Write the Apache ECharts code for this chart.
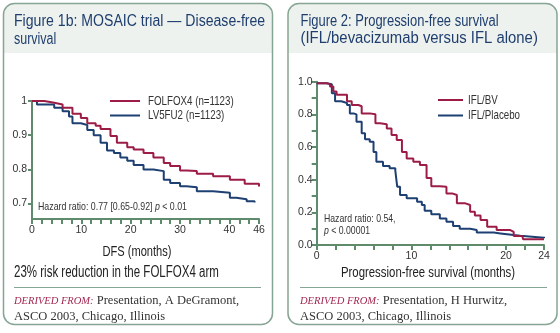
<!DOCTYPE html>
<html>
<head>
<meta charset="utf-8">
<script src="https://cdn.jsdelivr.net/npm/echarts@6/dist/echarts.min.js"></script>
<style>
  html, body { margin: 0; padding: 0; background: #ffffff; }
  #chart { width: 560px; height: 333px; }
</style>
</head>
<body>
<div id="chart"></div>
<script>
// Figure 1b: MOSAIC trial, disease-free survival (months, proportion)
const dfsMonths   = [0, 2.5, 4.5, 6.2, 8.2, 9.9, 11.2, 12.9, 13.9, 15.9, 17.2, 19.3, 20.6, 22.6, 24.6, 26.7, 28, 30, 31.3, 33.4, 36.7, 40.1, 43.1, 45.4, 46];
const folfox4Surv = [1.0, 0.995, 0.99, 0.98, 0.963, 0.95, 0.935, 0.928, 0.918, 0.898, 0.878, 0.865, 0.858, 0.848, 0.835, 0.819, 0.81, 0.797, 0.795, 0.787, 0.78, 0.77, 0.758, 0.758, 0.75];
const lvMonths    = [0, 1, 2.5, 4.5, 6.2, 7.5, 8.2, 9.9, 11.2, 12.5, 13.9, 15.2, 16.6, 17.9, 19.3, 20.6, 22.6, 24.6, 26.7, 28, 30, 31.3, 33.4, 36.7, 40.1, 41.4, 43.5, 45.1];
const lv5fu2Surv  = [1.0, 0.99, 0.99, 0.98, 0.97, 0.955, 0.935, 0.93, 0.915, 0.9, 0.878, 0.855, 0.848, 0.835, 0.825, 0.813, 0.8, 0.795, 0.77, 0.76, 0.751, 0.748, 0.736, 0.732, 0.717, 0.713, 0.707, 0.703];
const dfsTickLabels = [0, 10, 20, 30, 40, 46];
const dfsYLabels    = [0.7, 0.8, 0.9, 1];

// Figure 2: progression-free survival (months, proportion)
const bvMonths = [0, 1.06, 1.4, 1.76, 2.1, 2.6, 3.2, 3.7, 4.4, 4.75, 5.6, 6.2, 6.7, 7.4, 7.9, 8.45, 9.0, 9.5, 10.2, 10.9, 11.6, 12.1, 13.0, 13.7, 14.3, 14.8, 15.7, 16.2, 16.7, 17.3, 18.0, 19.0, 20.4, 20.8, 21.7, 21.8, 24.0];
const bvSurv   = [0.99, 0.985, 0.97, 0.94, 0.92, 0.92, 0.88, 0.857, 0.85, 0.806, 0.80, 0.745, 0.74, 0.714, 0.673, 0.643, 0.57, 0.53, 0.51, 0.49, 0.41, 0.36, 0.357, 0.316, 0.306, 0.255, 0.245, 0.204, 0.18, 0.153, 0.112, 0.092, 0.08, 0.055, 0.05, 0.035, 0.035];
const plMonths = [0, 1.06, 1.6, 1.94, 2.6, 3.2, 3.5, 3.9, 4.2, 4.75, 5.1, 5.6, 6.0, 6.3, 7.0, 7.7, 8.3, 8.5, 8.8, 9.5, 10.6, 11.1, 11.4, 12.1, 13.0, 13.7, 14.4, 15.1, 16.2, 16.9, 18.7, 19.4, 20.8, 21.5, 24.0];
const plSurv   = [0.99, 0.985, 0.93, 0.88, 0.87, 0.857, 0.806, 0.80, 0.755, 0.684, 0.647, 0.633, 0.57, 0.51, 0.484, 0.47, 0.455, 0.357, 0.306, 0.286, 0.265, 0.245, 0.21, 0.188, 0.163, 0.143, 0.116, 0.10, 0.092, 0.076, 0.071, 0.061, 0.057, 0.045, 0.05];
const pfsTickLabels = [0, 10, 20, 24];

const zip = (xs, ys) => xs.map((x, i) => [x, ys[i]]);

const RED = '#9c1c46';
const BLUE = '#1d3f72';
const AXIS = '#5e8b6c';
const FRAME = '#86a594';
const HEAD_BG = '#eef2ef';
const TITLE = '#1f3e6e';
const SANS = '"Liberation Sans", Arial, sans-serif';
const SERIF = '"Liberation Serif", "Times New Roman", serif';

function panel(x, w) {
  return [
    { type: 'rect', z: 0, shape: { x: x, y: 3.5, width: w, height: 321, r: 11 }, style: { fill: '#ffffff' } },
    { type: 'rect', z: 1, shape: { x: x, y: 3.5, width: w, height: 49.5, r: [11, 11, 0, 0] }, style: { fill: HEAD_BG } },
    { type: 'rect', z: 2, shape: { x: x, y: 3.5, width: w, height: 321, r: 11 }, style: { fill: 'none', stroke: FRAME, lineWidth: 1.5 } }
  ];
}

// Condensed text: the sans face is narrowed horizontally around its anchor point
function text(x, y, str, style, sx) {
  return { type: 'text', z: 5, x: x, y: y, scaleX: sx || 1,
           style: Object.assign({ text: str, verticalAlign: 'middle' }, style) };
}

function source(x, y, who) {
  return [
    { type: 'text', z: 5, x: x, y: y, style: {
        text: '{d|DERIVED FROM:} ' + who, verticalAlign: 'middle',
        font: '12.5px ' + SERIF, fill: '#333333',
        rich: { d: { font: 'italic 10.5px ' + SERIF, fill: '#a3294f' } } } },
    text(x, y + 16, 'ASCO 2003, Chicago, Illinois', { font: '12.5px ' + SERIF, fill: '#333333' })
  ];
}

function lineLegend(x, y, len, gap, color, label) {
  return [
    { type: 'line', z: 5, shape: { x1: x, y1: y, x2: x + len, y2: y }, style: { stroke: color, lineWidth: 2 } },
    text(x + len + gap, y, label, { font: '13px ' + SANS, fill: '#333333' }, 0.75)
  ];
}

const graphics = [].concat(
  panel(3.5, 269),
  panel(288, 269),
  text(14, 22, 'Figure 1b: MOSAIC trial \u2014 Disease-free', { font: '16px ' + SANS, fill: TITLE }, 0.88),
  text(14, 39.5, 'survival', { font: '16px ' + SANS, fill: TITLE }, 0.78),
  text(300.5, 22, 'Figure 2: Progression-free survival', { font: '16px ' + SANS, fill: TITLE }, 0.81),
  text(300.5, 38.5, '(IFL/bevacizumab versus IFL alone)', { font: '16px ' + SANS, fill: TITLE }, 0.93),
  lineLegend(110, 101, 30, 8, RED, 'FOLFOX4 (n=1123)'),
  lineLegend(110, 115.5, 30, 8, BLUE, 'LV5FU2 (n=1123)'),
  lineLegend(438, 100, 25, 5, RED, 'IFL/BV'),
  lineLegend(438, 115.5, 25, 5, BLUE, 'IFL/Placebo'),
  [{ type: 'text', z: 5, x: 38, y: 207, scaleX: 0.8, style: {
      text: 'Hazard ratio: 0.77 [0.65-0.92] {i|p} < 0.01', verticalAlign: 'middle',
      font: '11px ' + SANS, fill: '#333333',
      rich: { i: { font: 'italic 11px ' + SANS, fill: '#333333' } } } }],
  text(324, 219, 'Hazard ratio: 0.54,', { font: '11px ' + SANS, fill: '#333333' }, 0.79),
  [{ type: 'text', z: 5, x: 324, y: 230.5, scaleX: 0.79, style: {
      text: '{i|p} < 0.00001', verticalAlign: 'middle',
      font: '11px ' + SANS, fill: '#333333',
      rich: { i: { font: 'italic 11px ' + SANS, fill: '#333333' } } } }],
  [{ type: 'text', z: 5, x: 137, y: 251.5, scaleX: 0.74, style: { text: 'DFS (months)', align: 'center', verticalAlign: 'middle', font: '15px ' + SANS, fill: '#222222' } }],
  [{ type: 'text', z: 5, x: 428, y: 273, scaleX: 0.76, style: { text: 'Progression-free survival (months)', align: 'center', verticalAlign: 'middle', font: '15px ' + SANS, fill: '#222222' } }],
  text(14, 273, '23% risk reduction in the FOLFOX4 arm', { font: '16px ' + SANS, fill: '#222222' }, 0.72),
  [{ type: 'line', z: 5, shape: { x1: 14, y1: 287.5, x2: 261, y2: 287.5 }, style: { stroke: FRAME, lineWidth: 1 } }],
  [{ type: 'line', z: 5, shape: { x1: 300, y1: 287.5, x2: 547, y2: 287.5 }, style: { stroke: FRAME, lineWidth: 1 } }],
  source(14, 301, 'Presentation, A DeGramont,'),
  source(300, 301, 'Presentation, H Hurwitz,')
);

const axisCommon = {
  axisLine: { show: true, lineStyle: { color: AXIS, width: 2 } },
  axisTick: { show: true, inside: false, length: 5, lineStyle: { color: AXIS, width: 2 } },
  splitLine: { show: false },
  axisLabel: { color: '#333333', fontFamily: SANS, fontSize: 10.5 }
};

function xAxis(grid, max, labels) {
  return Object.assign({}, axisCommon, {
    type: 'value', gridIndex: grid, min: 0, max: max, interval: 2,
    axisLabel: Object.assign({}, axisCommon.axisLabel, {
      margin: 6, showMaxLabel: true,
      formatter: v => labels.indexOf(v) >= 0 ? String(v) : ''
    })
  });
}

const chart = echarts.init(document.getElementById('chart'), null, { renderer: 'canvas' });
chart.setOption({
  animation: false,
  backgroundColor: '#ffffff',
  graphic: graphics,
  grid: [
    { left: 32, top: 101, width: 227, height: 118 },
    { left: 316.7, top: 81.7, width: 227.3, height: 163.3 }
  ],
  xAxis: [
    xAxis(0, 46, dfsTickLabels),
    xAxis(1, 24, pfsTickLabels)
  ],
  yAxis: [
    Object.assign({}, axisCommon, {
      type: 'value', gridIndex: 0, min: 0.655, max: 1,
      axisTick: Object.assign({}, axisCommon.axisTick, { length: 4, customValues: dfsYLabels }),
      axisLabel: Object.assign({}, axisCommon.axisLabel, { margin: 5, customValues: dfsYLabels, formatter: v => String(v) })
    }),
    Object.assign({}, axisCommon, {
      type: 'value', gridIndex: 1, min: 0, max: 1, interval: 0.1,
      axisTick: Object.assign({}, axisCommon.axisTick, { length: 5 }),
      axisLabel: Object.assign({}, axisCommon.axisLabel, {
        margin: 4, showMinLabel: true, showMaxLabel: true,
        formatter: v => (Math.round(v * 10) % 2 === 0 ? v.toFixed(1) : '')
      })
    })
  ],
  series: [
    { name: 'FOLFOX4 (n=1123)', type: 'line', xAxisIndex: 0, yAxisIndex: 0, step: 'end', showSymbol: false, z: 4,
      data: zip(dfsMonths, folfox4Surv), lineStyle: { color: RED, width: 2 } },
    { name: 'LV5FU2 (n=1123)', type: 'line', xAxisIndex: 0, yAxisIndex: 0, step: 'end', showSymbol: false, z: 3,
      data: zip(lvMonths, lv5fu2Surv), lineStyle: { color: BLUE, width: 2 } },
    { name: 'IFL/BV', type: 'line', xAxisIndex: 1, yAxisIndex: 1, step: 'end', showSymbol: false, z: 4,
      data: zip(bvMonths, bvSurv), lineStyle: { color: RED, width: 2 } },
    { name: 'IFL/Placebo', type: 'line', xAxisIndex: 1, yAxisIndex: 1, step: 'end', showSymbol: false, z: 3,
      data: zip(plMonths, plSurv), lineStyle: { color: BLUE, width: 2 } }
  ]
});
</script>
</body>
</html>
